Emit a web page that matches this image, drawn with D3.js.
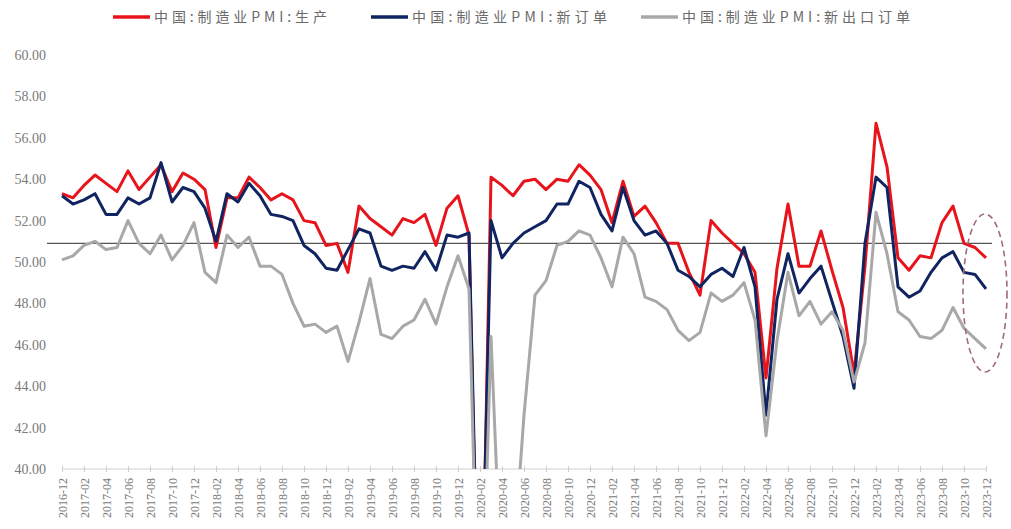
<!DOCTYPE html>
<html><head><meta charset="utf-8">
<script src="https://cdn.jsdelivr.net/npm/d3@7/dist/d3.min.js"></script>
<style>body{margin:0;background:#fff;} svg{display:block;}</style>
</head><body>
<svg id="chart" width="1011" height="529"></svg>
<script>
const seriesNames = ["中国:制造业PMI:生产", "中国:制造业PMI:新订单", "中国:制造业PMI:新出口订单"];
const months = [];
for (let y = 2016, m = 12; y < 2024; ) { months.push(y + "-" + String(m).padStart(2, "0")); m++; if (m > 12) { m = 1; y++; } if (y === 2024) break; }
const production = [53.3,
 53.1,53.7,54.2,53.8,53.4,54.4,53.5,54.1,54.7,53.4,54.3,54.0,
 53.5,50.7,53.1,53.1,54.1,53.6,53.0,53.3,53.0,52.0,51.9,50.8,
 50.9,49.5,52.7,52.1,51.7,51.3,52.1,51.9,52.3,50.8,52.6,53.2,
 51.3,27.8,54.1,53.7,53.2,53.9,54.0,53.5,54.0,53.9,54.7,54.2,
 53.5,51.9,53.9,52.2,52.7,51.9,50.9,50.9,49.5,48.4,52.0,51.4,
 50.9,50.4,49.5,44.4,49.7,52.8,49.8,49.8,51.5,49.6,47.8,44.6,
 49.8,56.7,54.6,50.2,49.6,50.3,50.2,51.9,52.7,50.9,50.7,50.2];
const newOrders = [53.2,
 52.8,53.0,53.3,52.3,52.3,53.1,52.8,53.1,54.8,52.9,53.6,53.4,
 52.6,51.0,53.3,52.9,53.8,53.2,52.3,52.2,52.0,50.8,50.4,49.7,
 49.6,50.6,51.6,51.4,49.8,49.6,49.8,49.7,50.5,49.6,51.3,51.2,
 51.4,29.3,52.0,50.2,50.9,51.4,51.7,52.0,52.8,52.8,53.9,53.6,
 52.3,51.5,53.6,52.0,51.3,51.5,50.9,49.6,49.3,48.8,49.4,49.7,
 49.3,50.7,48.8,42.6,48.2,50.4,48.5,49.2,49.8,48.1,46.4,43.9,
 50.9,54.1,53.6,48.8,48.3,48.6,49.5,50.2,50.5,49.5,49.4,48.7];
const exportOrders = [50.1,
 50.3,50.8,51.0,50.6,50.7,52.0,50.9,50.4,51.3,50.1,50.8,51.9,
 49.5,49.0,51.3,50.7,51.2,49.8,49.8,49.4,48.0,46.9,47.0,46.6,
 46.9,45.2,47.1,49.2,46.5,46.3,46.9,47.2,48.2,47.0,48.8,50.3,
 48.7,28.7,46.4,33.5,35.3,42.6,48.4,49.1,50.8,51.0,51.5,51.3,
 50.2,48.8,51.2,50.4,48.3,48.1,47.7,46.7,46.2,46.6,48.5,48.1,
 48.4,49.0,47.2,41.6,46.2,49.5,47.4,48.1,47.0,47.6,46.7,44.2,
 46.1,52.4,50.4,47.6,47.2,46.4,46.3,46.7,47.8,46.8,46.3,45.8];
const yTicks = [40, 42, 44, 46, 48, 50, 52, 54, 56, 58, 60];
const referenceLevel = 50.9;
const highlightMonth = "2023-12";

const colors = ["#e8141c", "#0f2460", "#a8a8a8"];
const svg = d3.select("#chart");
const x = d3.scalePoint().domain(months).range([62, 986]);
const y = d3.scaleLinear().domain([40, 60]).range([469, 55]);

// y axis labels
const yAxis = d3.axisLeft(y).tickValues(yTicks).tickFormat(d3.format(".2f")).tickSize(0).tickPadding(0);
const gy = svg.append("g").attr("transform", "translate(46,0)").call(yAxis);
gy.select(".domain").remove();
gy.selectAll("text").attr("fill", "#7a7a7a").style("font-family", "'Liberation Serif', serif").style("font-size", "14px");

// x axis
const xTickVals = months.filter((d, i) => i % 2 === 0);
const xAxis = d3.axisBottom(x).tickValues(xTickVals).tickSize(4).tickPadding(9);
const gx = svg.append("g").attr("transform", "translate(0,469)").call(xAxis);
gx.select(".domain").attr("stroke", "#cfcfcf").attr("d", "M62,0H986");
gx.selectAll(".tick line").attr("stroke", "#cfcfcf").attr("y1", -3).attr("y2", 3);
gx.selectAll("text")
  .attr("fill", "#7a7a7a").style("font-family", "'Liberation Serif', serif").style("font-size", "12px")
  .attr("transform", "rotate(-90)").attr("text-anchor", "end").attr("x", -9).attr("y", 0).attr("dy", "0.35em");

// reference line
svg.append("line").attr("x1", 47).attr("x2", 992).attr("y1", y(referenceLevel)).attr("y2", y(referenceLevel))
  .attr("stroke", "#555").attr("stroke-width", 1.1);

// clip
svg.append("clipPath").attr("id", "plot").append("rect").attr("x", 40).attr("y", 40).attr("width", 960).attr("height", 429);

const line = d3.line().x((d, i) => x(months[i])).y(d => y(d));
const data = [production, newOrders, exportOrders];
const gl = svg.append("g").attr("clip-path", "url(#plot)");
data.forEach((s, k) => {
  gl.append("path").datum(s).attr("d", line).attr("fill", "none").attr("stroke", colors[k])
    .attr("stroke-width", 3).attr("stroke-linejoin", "round");
});

// legend
const legendX = [113, 371, 641];
const legendLen = [173, 195, 228];
seriesNames.forEach((n, k) => {
  svg.append("line").attr("x1", legendX[k]).attr("x2", legendX[k] + 37).attr("y1", 17).attr("y2", 17)
    .attr("stroke", colors[k]).attr("stroke-width", 3.5);
  svg.append("text").attr("x", legendX[k] + 41).attr("y", 22).text(n)
    .attr("fill", "#6a6a6a").style("font-family", "'Noto Sans CJK SC', sans-serif").style("font-size", "14px")
    .attr("textLength", legendLen[k]).attr("lengthAdjust", "spacing");
});

// highlight ellipse
svg.append("ellipse").attr("cx", x(highlightMonth) - 1).attr("cy", 293).attr("rx", 22).attr("ry", 79)
  .attr("fill", "none").attr("stroke", "#a06a7c").attr("stroke-width", 1.6).attr("stroke-dasharray", "6,4");
</script>
</body></html>
